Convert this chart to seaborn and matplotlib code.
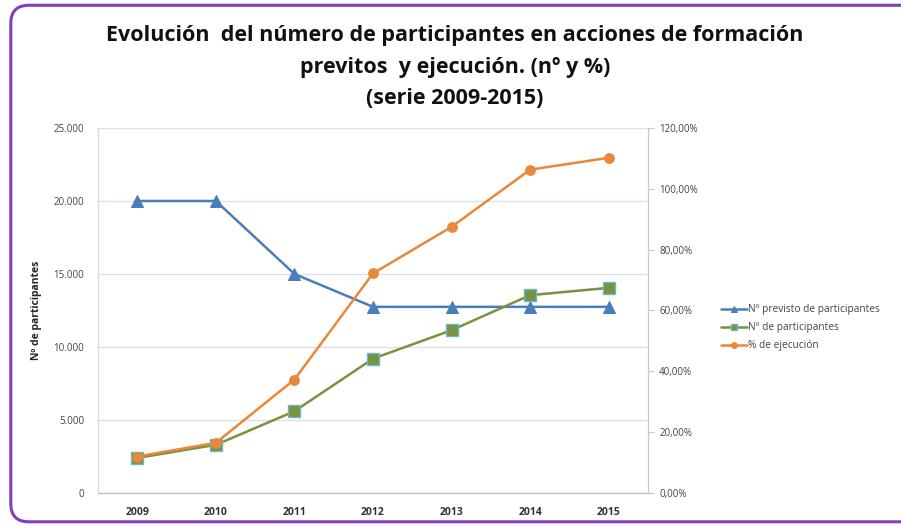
import matplotlib
matplotlib.use("Agg")
import matplotlib.pyplot as plt
import matplotlib.ticker as mticker
from matplotlib.patches import FancyBboxPatch
import numpy as np
import pandas as pd
import seaborn as sns

# ── Data ──────────────────────────────────────────────────────────────────────
years = [2009, 2010, 2011, 2012, 2013, 2014, 2015]
previstos = [20000, 20000, 15000, 12750, 12750, 12750, 12750]
participantes = [2400, 3300, 5600, 9200, 11150, 13550, 14050]
pct_ejecucion = [12.0, 16.5, 37.3, 72.2, 87.5, 106.3, 110.2]

labels = ["Nº previsto de participantes", "Nº de participantes", "% de ejecución"]
title = ("Evolución  del número de participantes en acciones de formación\n"
         "previtos  y ejecución. (nº y %)\n(serie 2009-2015)")

BLUE = "#4A7EBB"
GREEN = "#77933C"
ORANGE = "#E9883A"
GRID = "#D9E1EE"

sns.set_theme(style="white")
plt.rcParams["font.family"] = ["Open Sans", "DejaVu Sans"]

df = pd.DataFrame({"year": years, "prev": previstos,
                   "part": participantes, "pct": pct_ejecucion})

fig = plt.figure(figsize=(9.01, 5.26), dpi=100)
ax = fig.add_axes([0.1088, 0.0627, 0.6104, 0.694])
ax2 = ax.twinx()

sns.lineplot(data=df, x="year", y="prev", ax=ax, color=BLUE, marker="^",
             markersize=8, markeredgecolor=BLUE, linewidth=1.8, label=labels[0],
             legend=False)
sns.lineplot(data=df, x="year", y="part", ax=ax, color=GREEN, marker="s",
             markersize=8, markeredgecolor="#6FB6C9", markeredgewidth=1.0,
             linewidth=1.8, label=labels[1], legend=False)
sns.lineplot(data=df, x="year", y="pct", ax=ax2, color=ORANGE, marker="o",
             markersize=7, markeredgecolor=ORANGE, linewidth=1.8,
             label=labels[2], legend=False)

ax.set_xlim(2008.5, 2015.5)
ax.set_ylim(0, 25000)
ax2.set_ylim(0, 120)
ax.set_xticks(years)
ax.set_xticklabels([str(y) for y in years], fontsize=7.5, fontweight="bold",
                   color="#333333")
ax.set_yticks(np.arange(0, 25001, 5000))
ax.yaxis.set_major_formatter(mticker.FuncFormatter(
    lambda v, p: f"{int(v):,}".replace(",", ".")))
ax2.set_yticks(np.arange(0, 121, 20))
ax2.yaxis.set_major_formatter(mticker.FuncFormatter(
    lambda v, p: f"{v:.2f}%".replace(".", ",")))
for a in (ax, ax2):
    a.tick_params(axis="y", labelsize=7, colors="#444444", pad=4)
ax.tick_params(axis="x", length=0, pad=10)
ax.tick_params(axis="y", length=0, pad=10)
ax2.tick_params(axis="y", length=4, color="#C8C8C8", width=0.8, pad=4)

ax.grid(axis="y", color=GRID, linewidth=1.0)
ax.set_axisbelow(True)
ax.set_xlabel("")
ax.set_ylabel("Nº de participantes", fontsize=7.5, fontweight="bold",
              labelpad=8)
ax2.set_ylabel("")

for a in (ax, ax2):
    a.spines["top"].set_visible(False)
    a.spines["left"].set_color("#D9D9D9")
    a.spines["bottom"].set_color("#BFBFBF")
    a.spines["right"].set_color("#C8C8C8")
    for side in ("left", "bottom", "right"):
        a.spines[side].set_linewidth(0.8)

handles = ax.get_lines()[:2] + ax2.get_lines()[:1]
fig.legend(handles, labels, loc="center left", bbox_to_anchor=(0.79, 0.377),
           frameon=False, fontsize=7.3, handlelength=2.6, handletextpad=0.1,
           labelspacing=0.7, markerscale=0.6, labelcolor="#444444")

fig.suptitle(title, fontsize=15.5, fontweight="bold", x=0.505, y=0.952,
             linespacing=1.65, color="#111111")

border = FancyBboxPatch((0.012, 0.008), 1.1, 0.982, transform=fig.transFigure,
                        boxstyle="round,pad=0,rounding_size=0.02",
                        fill=False, edgecolor="#7F3FBF", linewidth=2.2,
                        mutation_aspect=901 / 526, clip_on=False)
fig.patches.append(border)

fig.savefig("out.png", dpi=100)
